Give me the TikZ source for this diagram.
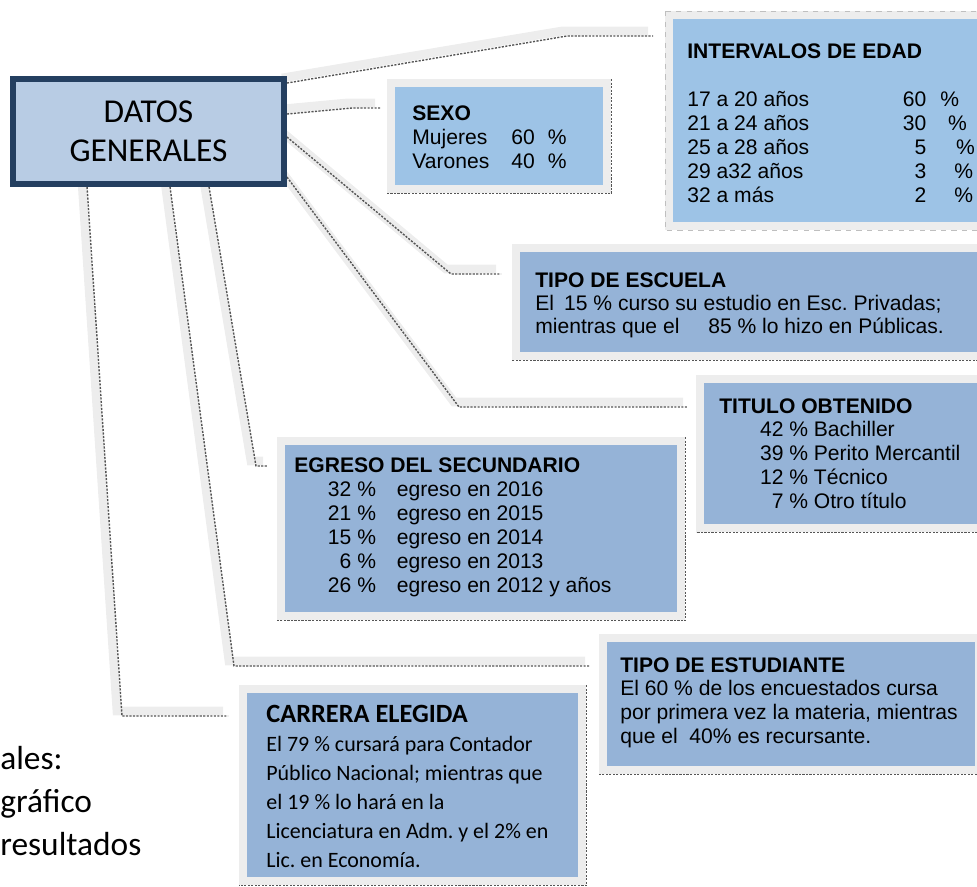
\documentclass[tikz,border=0pt]{standalone}
\usepackage{fontspec}
\setmainfont{Liberation Sans}
\newfontfamily\calibri{Carlito}
\usetikzlibrary{calc,backgrounds}
\definecolor{datosfill}{HTML}{B8CCE4}
\definecolor{datosline}{HTML}{243F60}
\definecolor{skyblue}{HTML}{9DC3E6}
\definecolor{steelblue}{HTML}{95B3D7}
\definecolor{framegray}{HTML}{EDEDED}
\definecolor{dotgray}{HTML}{555555}
\newcommand\edadrow[3]{\makebox[136pt][l]{#1}\llap{#2}\hspace{#3}\%}
\newcommand\sexorow[2]{\makebox[69.7pt][l]{#1}\llap{#2}\hspace{7.4pt}\%}
\newcommand\titrow[2]{\makebox[50.5pt][r]{#1 \%} #2}
\newcommand\egrow[2]{\makebox[46.5pt][r]{#1 \%}\hspace{11.9pt}egreso en #2}
\frenchspacing
\begin{document}
\begin{tikzpicture}[x=0.02cm, y=-0.02cm,
  datosbox/.style={draw=datosline, line width=3.4pt, fill=datosfill, minimum width=5.42cm,
    minimum height=2.1cm, font=\calibri\fontsize{19}{22}\selectfont, align=center},
  infobox/.style={anchor=north west, inner sep=0pt, fill=#1, preaction={draw=framegray, line width=9pt}},
  infotext/.style={anchor=base west, inner sep=0pt, align=left, font=\fontsize{12}{13.6}\selectfont},
  dotedge/.style={dotgray, line width=0.8pt, dash pattern=on 1.2pt off 0.8pt},
  conn/.style={dotedge, preaction={draw=framegray, solid, line width=5pt, transform canvas={shift={(-5,-5)}}}}]
  \useasboundingbox (0,0) rectangle (977,886);
  \clip (0,0) rectangle (977,886);

  % main box
  \node[datosbox] (datos) at (148.5,131.5) {DATOS\\GENERALES};

  % result boxes
  \node[infobox=skyblue, minimum width=6.4cm, minimum height=4.06cm] (edad) at (673,19) {};
  \node[infobox=skyblue, minimum width=4.16cm, minimum height=1.96cm] (sexo) at (395,87) {};
  \node[infobox=steelblue, minimum width=9.4cm, minimum height=2cm] (escuela) at (520,252) {};
  \node[infobox=steelblue, minimum width=5.72cm, minimum height=2.82cm] (titulo) at (704,383) {};
  \node[infobox=steelblue, minimum width=7.84cm, minimum height=3.34cm] (egreso) at (285,445) {};
  \node[infobox=steelblue, minimum width=7.36cm, minimum height=2.48cm] (estudiante) at (607,642) {};
  \node[infobox=steelblue, minimum width=6.62cm, minimum height=3.68cm] (carrera) at (247,693) {};

  \draw[gray!50, dashed, line width=0.4pt] ($(edad.north west)+(-8,-8)$) rectangle ($(edad.south east)+(8,8)$);
  \draw[dotedge] ($(sexo.north east)+(8,-8)$) |- ($(sexo.south west)+(-8,8)$);
  \draw[dotedge] ($(escuela.north east)+(8,-8)$) |- ($(escuela.south west)+(-8,8)$);
  \draw[dotedge] ($(titulo.north east)+(8,-8)$) |- ($(titulo.south west)+(-8,8)$);
  \draw[dotedge] ($(egreso.north east)+(8,-8)$) |- ($(egreso.south west)+(-8,8)$);
  \draw[dotedge] ($(estudiante.north east)+(8,-8)$) |- ($(estudiante.south west)+(-8,8)$);
  \draw[dotedge] ($(carrera.north east)+(8,-8)$) |- ($(carrera.south west)+(-8,8)$);

  % texts (placed by the baseline of their last line)
  \node[infotext] (edad-txt) at ($(edad.north west)+(14,183)$) {\textbf{INTERVALOS DE EDAD}\\[13.6pt]
    \edadrow{17 a 20 años}{60}{8pt}\\ \edadrow{21 a 24 años}{30}{12.5pt}\\
    \edadrow{25 a 28 años}{5}{17pt}\\ \edadrow{29 a32 años}{3}{16pt}\\
    \edadrow{32 a más}{2}{16pt}};
  \node[infotext] (sexo-txt) at ($(sexo.north west)+(17,81)$) {\textbf{SEXO}\\
    \sexorow{Mujeres}{60}\\ \sexorow{Varones}{40}};
  \node[infotext, font=\fontsize{12}{13}\selectfont] (escuela-txt) at ($(escuela.north west)+(15,81)$)
    {\textbf{TIPO DE ESCUELA}\\ El\hspace{5.7pt}15 \% curso su estudio en Esc. Privadas;\\
    mientras que el\hspace{16.4pt}85 \% lo hizo en Públicas.};
  \node[infotext, font=\fontsize{12}{13.5}\selectfont] (titulo-txt) at ($(titulo.north west)+(15,125)$)
    {\textbf{TITULO OBTENIDO}\\ \titrow{42}{Bachiller}\\ \titrow{39}{Perito Mercantil}\\
    \titrow{12}{Técnico}\\ \titrow{7}{Otro título}};
  \node[infotext] (egreso-txt) at ($(egreso.north west)+(9,147)$) {\textbf{EGRESO DEL SECUNDARIO}\\
    \egrow{32}{2016}\\ \egrow{21}{2015}\\ \egrow{15}{2014}\\ \egrow{6}{2013}\\ \egrow{26}{2012 y años}};
  \node[infotext, font=\fontsize{12}{13.4}\selectfont] (estudiante-txt) at ($(estudiante.north west)+(13,101)$)
    {\textbf{TIPO DE ESTUDIANTE}\\ El 60 \% de los encuestados cursa\\
    por primera vez la materia, mientras\\ que el\ \ 40\% es recursante.};
  \node[infotext, font=\calibri\fontsize{12.5}{16.4}\selectfont] (carrera-txt) at ($(carrera.north west)+(19,174)$)
    {{\fontsize{15}{16.4}\selectfont\bfseries CARRERA ELEGIDA}\\ El 79 \% cursará para Contador\\
    Público Nacional; mientras que\\ el 19 \% lo hará en la\\
    Licenciatura en Adm. y el 2\% en\\ Lic. en Economía.};
  \node[anchor=base west, inner sep=0pt, align=left, font=\calibri\fontsize{19}{24.4}\selectfont]
    (resto) at (0,855) {ales:\\gráfico\\resultados};

  % connectors
  \begin{scope}[on background layer]
    \coordinate (k1) at (567,36);  \coordinate (k1e) at (653,36);
    \coordinate (k2) at (352,108); \coordinate (k2e) at (380,108);
    \coordinate (k3) at (451,274); \coordinate (k3e) at (501,274);
    \coordinate (k4) at (459,407); \coordinate (k4e) at (688,407);
    \coordinate (k5) at (256,466); \coordinate (k5e) at (268,466);
    \coordinate (k6) at (234,666); \coordinate (k6e) at (590,666);
    \coordinate (k7) at (122,716); \coordinate (k7e) at (228,716);
    \draw[conn] ($(datos.north east)+(0,7)$) -- (k1) -- (k1e);
    \draw[conn] ($(datos.north east)+(0,38)$) -- (k2) -- (k2e);
    \draw[conn] ($(datos.north east)+(0,61)$) -- (k3) -- (k3e);
    \draw[conn] ($(datos.north east)+(0,101)$) -- (k4) -- (k4e);
    \draw[conn] ($(datos.south west)+(199,0)$) -- (k5) -- (k5e);
    \draw[conn] ($(datos.south west)+(160,0)$) -- (k6) -- (k6e);
    \draw[conn] ($(datos.south west)+(77,0)$) -- (k7) -- (k7e);
  \end{scope}
\end{tikzpicture}
\end{document}
